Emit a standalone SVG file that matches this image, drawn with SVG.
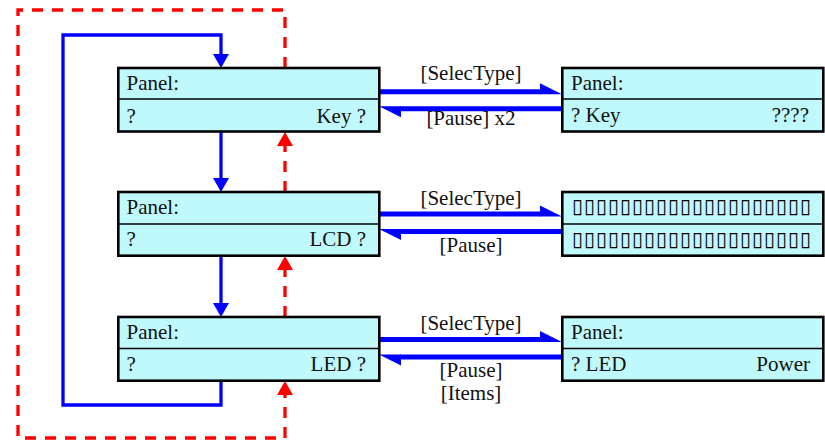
<svg xmlns="http://www.w3.org/2000/svg" width="825" height="441" viewBox="0 0 825 441">
<style>
  .box { fill: #C0F9FC; stroke: #000; stroke-width: 2.6; }
  .div { stroke: #000; stroke-width: 1.5; }
  text { font-family: "Liberation Serif", "Times New Roman", serif; font-size: 21px; fill: #111; }
  .r { text-anchor: end; }
  .c { text-anchor: middle; }
  .sq { font-family: "DejaVu Sans", sans-serif; font-size: 20px; font-weight: bold; fill: #000; }
  .blue { fill: none; stroke: #0000FF; stroke-width: 3.3; }
  .red { fill: none; stroke: #FF0000; stroke-width: 3.3; stroke-dasharray: 11 9; }
  .hbar { fill: none; stroke: #0000FF; stroke-width: 5; }
</style>
<defs>
  <marker id="ab" markerUnits="userSpaceOnUse" markerWidth="14" markerHeight="16" viewBox="0 0 14 16" refX="0" refY="8" orient="auto" overflow="visible">
    <path d="M0,0 L14,8 L0,16 z" fill="#0000FF"/>
  </marker>
  <marker id="ar" markerUnits="userSpaceOnUse" markerWidth="14" markerHeight="16" viewBox="0 0 14 16" refX="0" refY="8" orient="auto" overflow="visible">
    <path d="M0,0 L14,8 L0,16 z" fill="#FF0000"/>
  </marker>
  <marker id="ah" markerUnits="userSpaceOnUse" markerWidth="22" markerHeight="12" viewBox="0 -9 22 12" refX="0" refY="0" orient="auto" overflow="visible">
    <path d="M-1,-8.6 L21,2.5 L-1,2.5 z" fill="#0000FF"/>
  </marker>
</defs>

<g id="connectors">
  <!-- blue loop -->
  <path class="blue" d="M221,381 V405 H63 V35 H221 V54" marker-end="url(#ab)"/>
  <path class="blue" d="M221,132 V178" marker-end="url(#ab)"/>
  <path class="blue" d="M221,256 V303" marker-end="url(#ab)"/>
  <!-- red dashed -->
  <path class="red" d="M285,68 V10 H18 V438 H285 V395" marker-end="url(#ar)"/>
  <path class="red" d="M285,192 V146" marker-end="url(#ar)"/>
  <path class="red" d="M285,317 V270" marker-end="url(#ar)"/>
  <!-- horizontal -->
  <path class="hbar" d="M379,91.8 H541" marker-end="url(#ah)"/>
  <path class="hbar" d="M562,108.7 H400" marker-end="url(#ah)"/>
  <path class="hbar" d="M379,214 H541" marker-end="url(#ah)"/>
  <path class="hbar" d="M562,231.5 H400" marker-end="url(#ah)"/>
  <path class="hbar" d="M379,339.5 H541" marker-end="url(#ah)"/>
  <path class="hbar" d="M562,357 H400" marker-end="url(#ah)"/>
  <text class="c" x="471" y="80">[SelecType]</text>
  <text class="c" x="471" y="125">[Pause] x2</text>
  <text class="c" x="471" y="205">[SelecType]</text>
  <text class="c" x="471" y="251.5">[Pause]</text>
  <text class="c" x="471" y="330">[SelecType]</text>
  <text class="c" x="471" y="376.5">[Pause]</text>
  <text class="c" x="471" y="400">[Items]</text>
</g>

<g id="key">
  <rect class="box" x="118.3" y="68" width="261" height="63.5"/>
  <line class="div" x1="118.3" y1="99" x2="379.3" y2="99"/>
  <text x="126.5" y="90">Panel:</text>
  <text x="126.5" y="122.5">?</text>
  <text class="r" x="366" y="122.5">Key ?</text>
</g>

<g id="lcd">
  <rect class="box" x="118.3" y="192" width="261" height="63.7"/>
  <line class="div" x1="118.3" y1="224" x2="379.3" y2="224"/>
  <text x="126.5" y="214">Panel:</text>
  <text x="126.5" y="246">?</text>
  <text class="r" x="366" y="246">LCD ?</text>
</g>

<g id="led">
  <rect class="box" x="118.3" y="317" width="261" height="63.7"/>
  <line class="div" x1="118.3" y1="348.5" x2="379.3" y2="348.5"/>
  <text x="126.5" y="339">Panel:</text>
  <text x="126.5" y="371">?</text>
  <text class="r" x="366" y="371">LED ?</text>
</g>

<g id="key-detail">
  <rect class="box" x="562.3" y="68" width="261" height="63.5"/>
  <line class="div" x1="562.3" y1="99" x2="823.3" y2="99"/>
  <text x="571" y="89.5">Panel:</text>
  <text x="571" y="122">? Key</text>
  <text class="r" x="809" y="122">????</text>
</g>

<g id="lcd-detail">
  <rect class="box" x="562.3" y="192" width="261" height="63.7"/>
  <line class="div" x1="562.3" y1="224" x2="823.3" y2="224"/>
  <text class="sq" x="572 584 596 608 620 632 644 656 668 680 692 704 716 728 740 752 764 776 788 800" y="213">&#x25AF;&#x25AF;&#x25AF;&#x25AF;&#x25AF;&#x25AF;&#x25AF;&#x25AF;&#x25AF;&#x25AF;&#x25AF;&#x25AF;&#x25AF;&#x25AF;&#x25AF;&#x25AF;&#x25AF;&#x25AF;&#x25AF;&#x25AF;</text>
  <text class="sq" x="572 584 596 608 620 632 644 656 668 680 692 704 716 728 740 752 764 776 788 800" y="245.5">&#x25AF;&#x25AF;&#x25AF;&#x25AF;&#x25AF;&#x25AF;&#x25AF;&#x25AF;&#x25AF;&#x25AF;&#x25AF;&#x25AF;&#x25AF;&#x25AF;&#x25AF;&#x25AF;&#x25AF;&#x25AF;&#x25AF;&#x25AF;</text>
</g>

<g id="led-detail">
  <rect class="box" x="562.3" y="317" width="261" height="63.7"/>
  <line class="div" x1="562.3" y1="348.5" x2="823.3" y2="348.5"/>
  <text x="571" y="339">Panel:</text>
  <text x="571" y="371">? LED</text>
  <text class="r" x="810" y="371">Power</text>
</g>
</svg>
